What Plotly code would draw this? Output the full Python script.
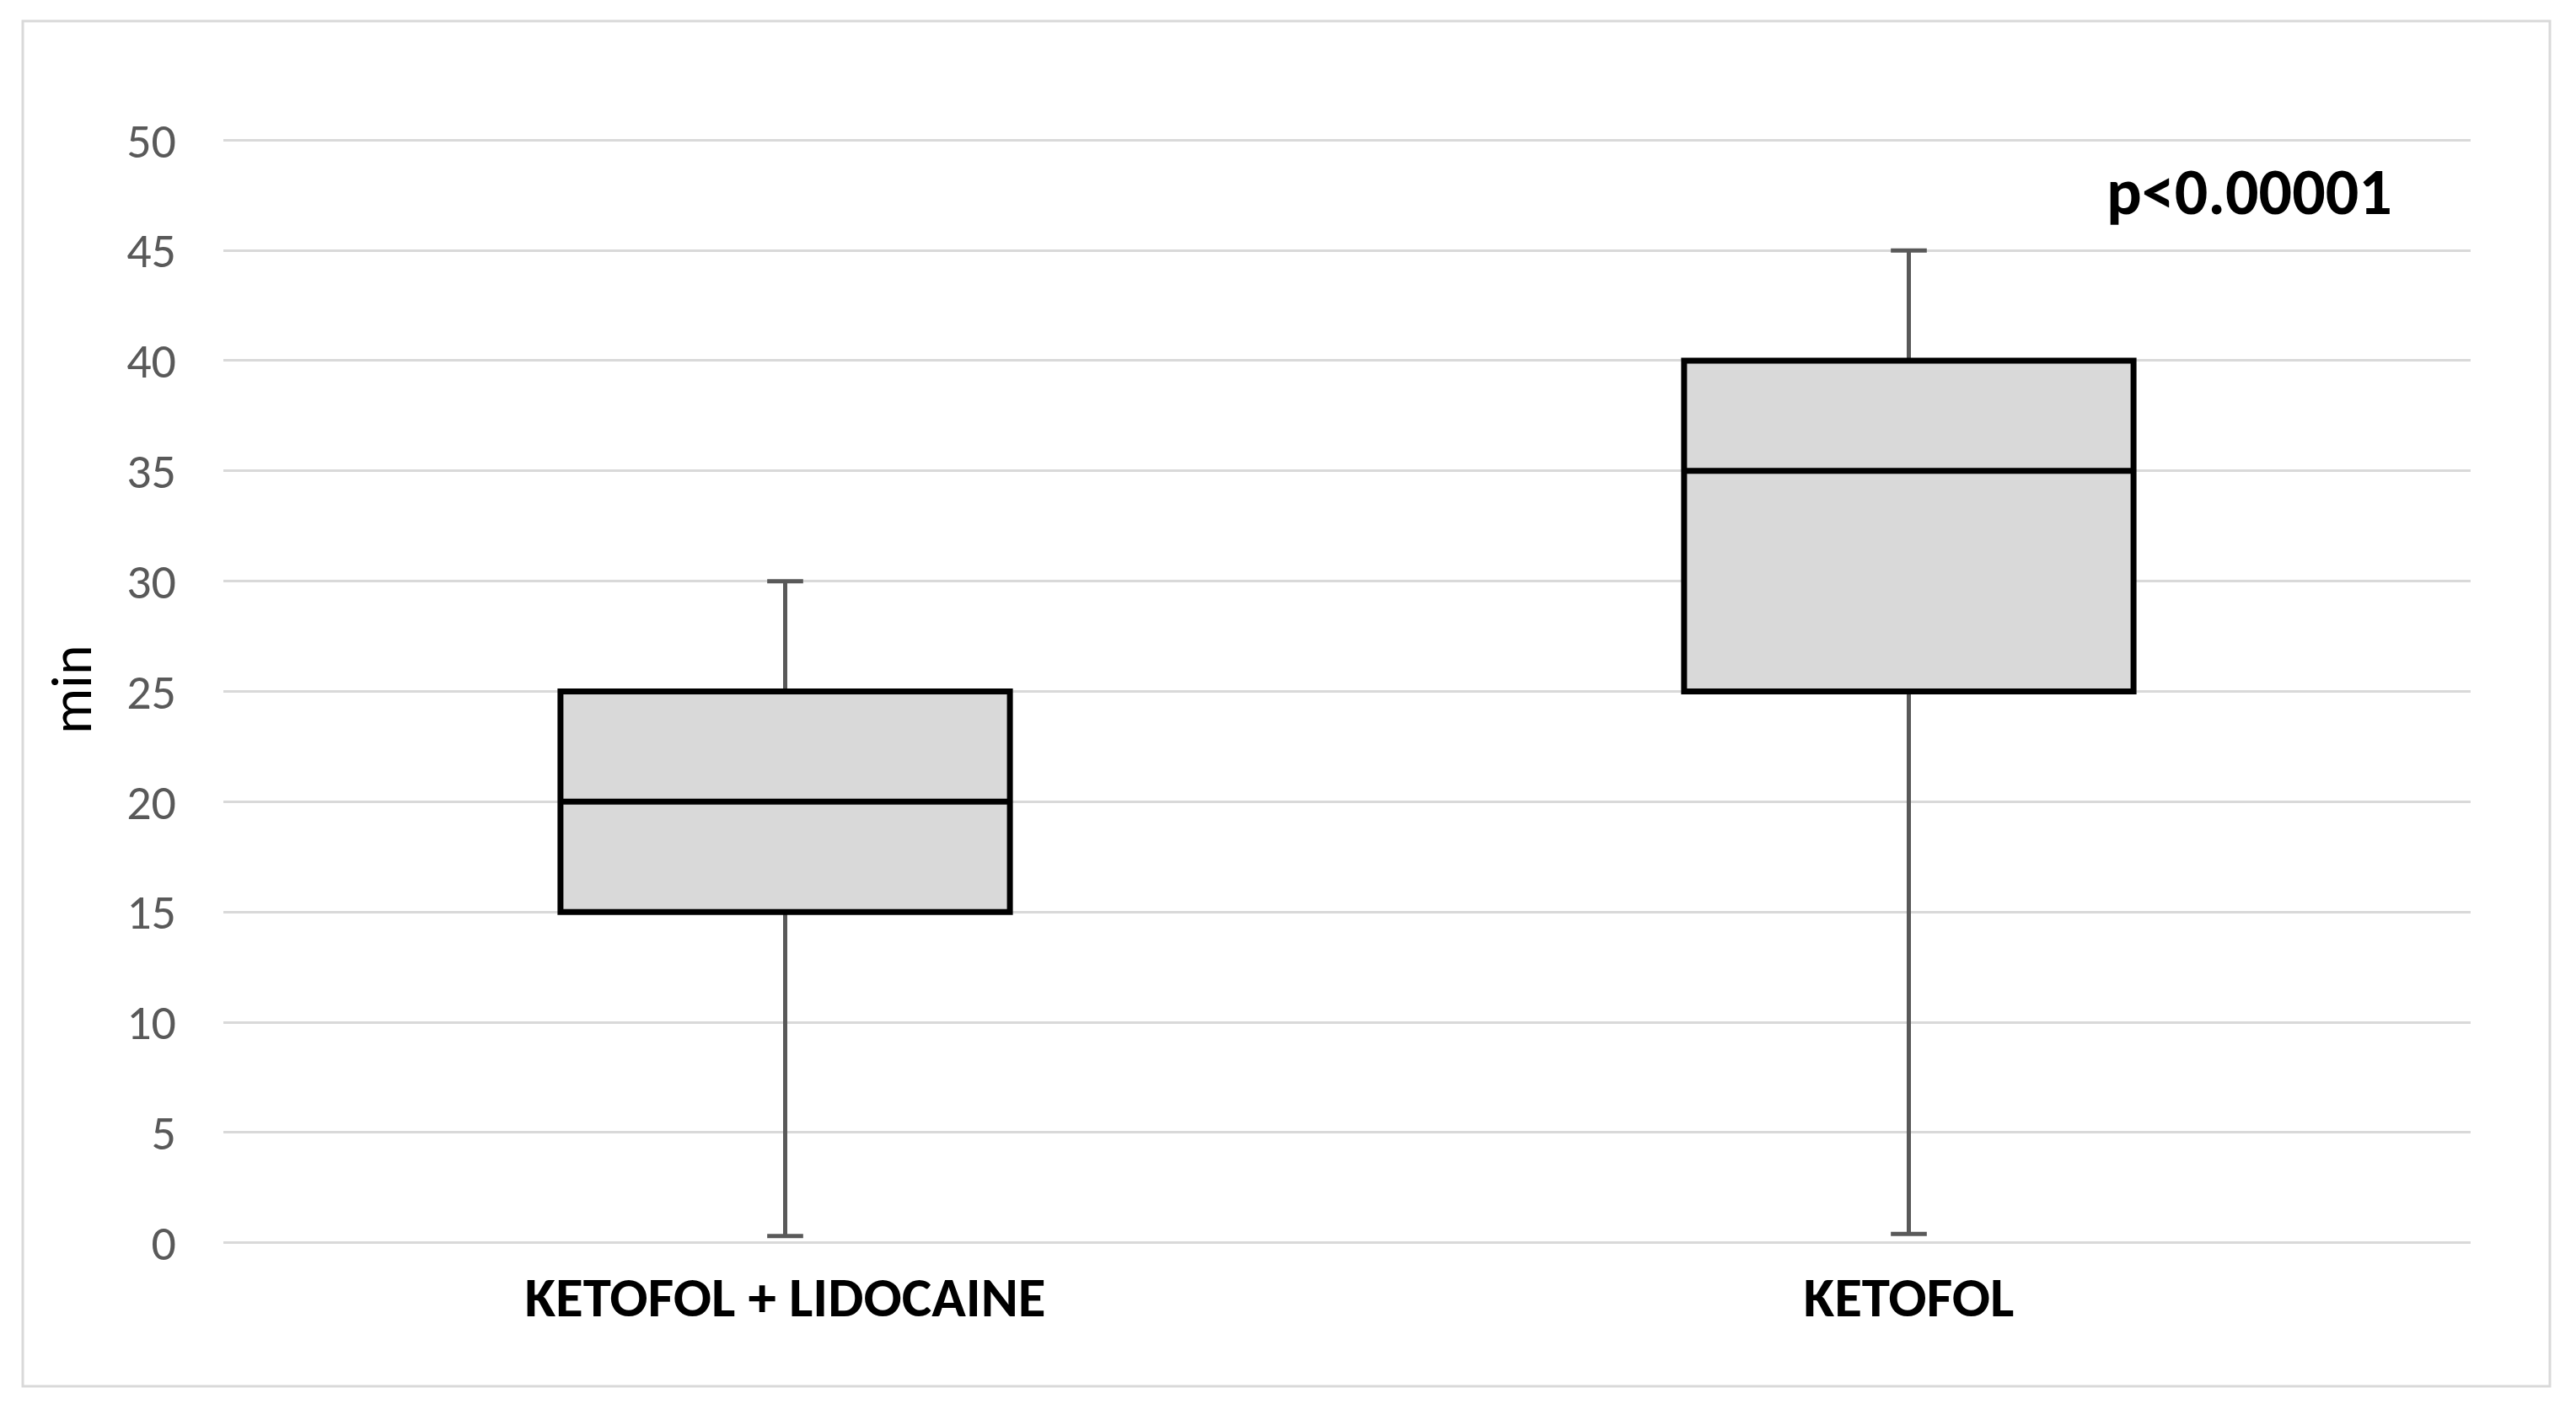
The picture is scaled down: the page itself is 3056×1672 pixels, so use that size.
import plotly.graph_objects as go

categories = ["KETOFOL + LIDOCAINE", "KETOFOL"]
q1 = [15, 25]
median = [20, 35]
q3 = [25, 40]
lower_whisker = [0.3, 0.4]
upper_whisker = [30, 45]
y_ticks = [0, 5, 10, 15, 20, 25, 30, 35, 40, 45, 50]
p_text = "p<0.00001"
y_title = "min"

FONT = "Calibri, Carlito, Lato, sans-serif"

fig = go.Figure()
# whiskers (gray)
fig.add_trace(go.Box(
    x=categories, q1=q1, median=median, q3=q3,
    lowerfence=lower_whisker, upperfence=upper_whisker,
    fillcolor="#d9d9d9", line=dict(color="#595959", width=5),
    whiskerwidth=0.08, boxpoints=False, hoverinfo="skip", showlegend=False,
))
# box body (black outline)
fig.add_trace(go.Box(
    x=categories, q1=q1, median=median, q3=q3,
    lowerfence=q1, upperfence=q3,
    fillcolor="#d9d9d9", line=dict(color="#000000", width=7),
    whiskerwidth=0, boxpoints=False, hoverinfo="skip", showlegend=False,
))

# page body has an 8px margin; the figure is sized to fit inside it
OFF = 8
W, H = 3040, 1656
L, T = 257, 157
pw, ph = 2666, 1311
R = W - L - pw
B = H - T - ph

def px_x(x):
    return (x - OFF - L) / pw

def px_y(y):
    return (T + ph - (y - OFF)) / ph

fig.update_layout(
    width=W, height=H,
    margin=dict(l=L, r=R, t=T, b=B, pad=0),
    paper_bgcolor="white", plot_bgcolor="white",
    boxmode="overlay", boxgap=0.6, boxgroupgap=0,
    font=dict(family=FONT, color="#595959"),
    xaxis=dict(
        type="category", showgrid=False, zeroline=False, showline=False,
        ticks="", ticklabelstandoff=18,
        tickfont=dict(family=FONT, size=67, color="#000000", weight="bold"),
    ),
    yaxis=dict(
        range=[-0.05, 50.05], tickvals=y_ticks, showgrid=True,
        gridcolor="#d9d9d9", gridwidth=3, zeroline=False, showline=False,
        ticks="", ticklabelstandoff=55,
        tickfont=dict(family=FONT, size=58, color="#595959"),
    ),
    shapes=[dict(
        type="rect", xref="paper", yref="paper",
        x0=px_x(27), x1=px_x(3025), y0=px_y(1645), y1=px_y(25),
        line=dict(color="#d9d9d9", width=3), fillcolor="rgba(0,0,0,0)",
        layer="below",
    )],
    annotations=[
        dict(text=y_title, xref="paper", yref="paper",
             x=px_x(85), y=px_y(818), xanchor="center", yanchor="middle",
             textangle=-90, showarrow=False,
             font=dict(family=FONT, size=68, color="#000000")),
        dict(text="<b>" + p_text + "</b>", xref="paper", yref="paper",
             x=px_x(2668), y=px_y(228), xanchor="center", yanchor="middle",
             showarrow=False,
             font=dict(family=FONT, size=78, color="#000000")),
    ],
)

fig.write_html("out.html")
